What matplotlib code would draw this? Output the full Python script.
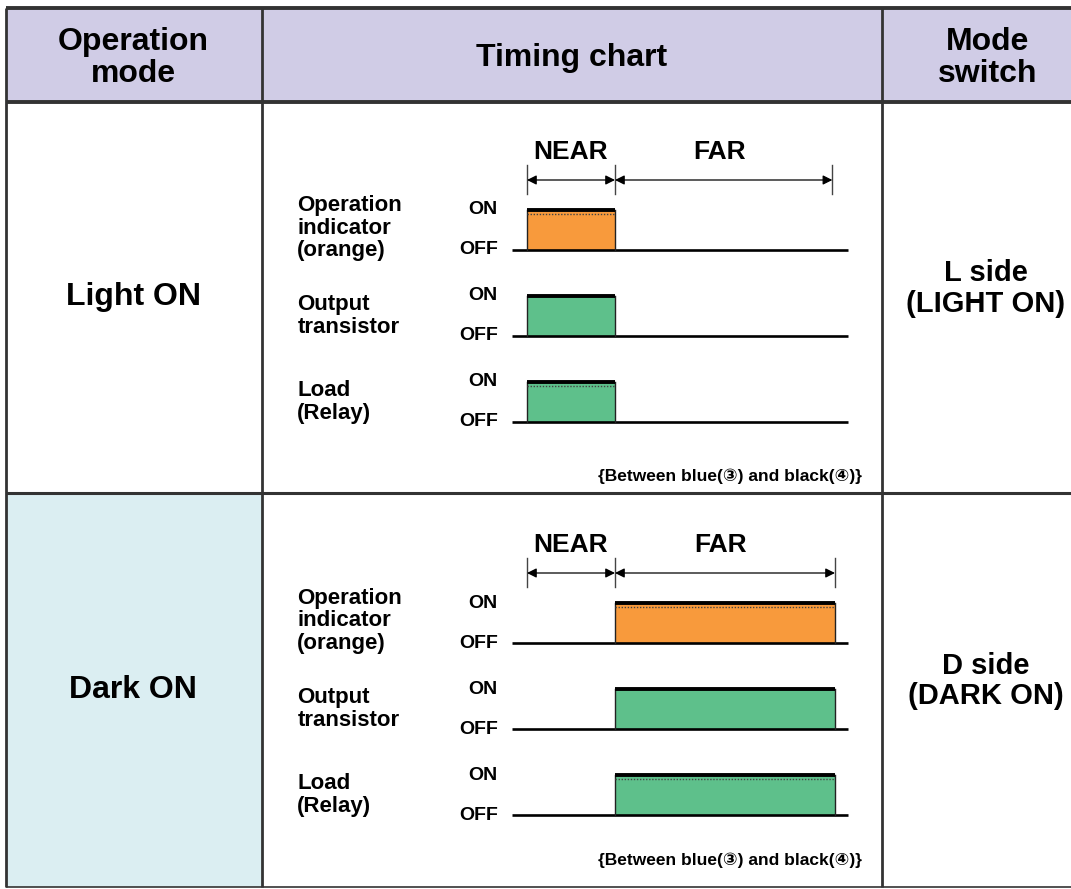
import matplotlib.pyplot as plt
from matplotlib.patches import Rectangle

plt.rcParams['font.family'] = ['Liberation Sans', 'DejaVu Sans']
plt.rcParams['font.weight'] = 'bold'

# table content
headers = ['Operation\nmode', 'Timing chart', 'Mode\nswitch']
modes = ['Light ON', 'Dark ON']
mode_fill = ['white', '#dbeef2']
switch_pos = ['L side\n(LIGHT ON)', 'D side\n(DARK ON)']
signals = ['Operation\nindicator\n(orange)', 'Output\ntransistor', 'Load\n(Relay)']
signal_colors = ['#f89a3c', '#5ec08b']
signal_color_idx = [0, 1, 1]
dotted_top = [True, False, True]
footnote = '{Between blue(\u2462) and black(\u2463)}'

# timing: phase edges in time units, and which phase the output is ON
phases = ['NEAR', 'FAR']
phase_edges = [[0, 1, 3.47], [0, 1, 3.5]]
on_phase = [0, 1]
t_line = (-0.17, 3.65)
row_base = [0, -2.15, -4.3]

W, H = 1071, 889
fig = plt.figure(figsize=(W / 100, H / 100), dpi=100)
ax = fig.add_axes([0, 0, 1, 1])
ax.set_xlim(0, W)
ax.set_ylim(H, 0)
ax.axis('off')

col_x = [6, 262, 882, W + 5]
row_y = [8, 102, 493, 887]
line_c = '#333333'

# header background
ax.add_patch(Rectangle((col_x[0], row_y[0]), col_x[3] - col_x[0], row_y[1] - row_y[0],
                       facecolor='#d0cce6', edgecolor='none'))
for i, fc in enumerate(mode_fill):
    ax.add_patch(Rectangle((col_x[0], row_y[i + 1]), col_x[1] - col_x[0],
                           row_y[i + 2] - row_y[i + 1], facecolor=fc, edgecolor='none'))

# grid lines
for y, lw in zip(row_y, [2.8, 2.8, 2.2, 1.2]):
    ax.plot([col_x[0], W], [y, y], color=line_c, lw=lw, solid_capstyle='butt')
for x in col_x[:3]:
    ax.plot([x, x], [row_y[0], row_y[3]], color=line_c, lw=2.0, solid_capstyle='butt')

# header text
hx = [133, 572, 988]
for x, t in zip(hx, headers):
    ax.text(x, 58, t, ha='center', va='center', fontsize=23, linespacing=1.08)

for i in range(2):
    yc = (row_y[i + 1] + row_y[i + 2]) / 2
    ax.text(133, yc, modes[i], ha='center', va='center', fontsize=23)
    ax.text(986, yc - 9, switch_pos[i], ha='center', va='center', fontsize=21,
            linespacing=1.12)

# timing chart insets
px_per_t = 88.0
px_per_lvl = 40.0
foot_y = [476, 860]
for m in range(2):
    dy = m * 393
    base_px = 250 + dy
    x0, x1 = 300, 870
    y0, y1 = 130 + dy, 490 + dy
    tax = fig.add_axes([x0 / W, 1 - y1 / H, (x1 - x0) / W, (y1 - y0) / H])
    tax.set_xlim((x0 - 527) / px_per_t, (x1 - 527) / px_per_t)
    tax.set_ylim((base_px - y1) / px_per_lvl, (base_px - y0) / px_per_lvl)
    tax.axis('off')

    edges = phase_edges[m]
    # dimension arrows
    ya = 1.75
    for p, name in enumerate(phases):
        a, b = edges[p], edges[p + 1]
        tax.annotate('', xy=(a, ya), xytext=(b, ya),
                     arrowprops=dict(arrowstyle='<|-|>', color='black', lw=0.9,
                                     mutation_scale=14, shrinkA=0, shrinkB=0))
        tax.text((a + b) / 2 if p == 0 else (a + b) / 2 - 0.05, 2.45, name,
                 ha='center', va='center', fontsize=19)
    for e in edges:
        tax.plot([e, e], [1.4, 2.12], color='#444444', lw=1.0)

    t_on, t_off = edges[on_phase[m]], edges[on_phase[m] + 1]
    for r, name in enumerate(signals):
        b = row_base[r]
        col = signal_colors[signal_color_idx[r]]
        tax.fill_between([t_on, t_off], b, b + 1, color=col, lw=0)
        tax.plot([t_line[0], t_line[1]], [b, b], color='black', lw=1.9,
                 solid_capstyle='butt')
        tax.plot([t_on, t_on], [b, b + 1], color='#222222', lw=1.0)
        tax.plot([t_off, t_off], [b, b + 1], color='#222222', lw=1.0)
        tax.plot([t_on, t_off], [b + 1, b + 1], color='black', lw=2.8,
                 solid_capstyle='butt')
        if dotted_top[r]:
            tax.plot([t_on, t_off], [b + 0.9, b + 0.9], color='#444444', lw=1.0,
                     linestyle=(0, (1, 1.2)))
        tax.text(-0.33, b + 1.0, 'ON', ha='right', va='center', fontsize=14)
        tax.text(-0.33, b, 'OFF', ha='right', va='center', fontsize=14)
        tax.text(-2.61, b + 0.55 if r == 0 else b + 0.5, name, ha='left', va='center',
                 fontsize=16, linespacing=1.08)

    tax.text((862 - 527) / px_per_t, (base_px - foot_y[m]) / px_per_lvl, footnote,
             ha='right', va='center', fontsize=12.5)

fig.savefig('out.png', dpi=100)
